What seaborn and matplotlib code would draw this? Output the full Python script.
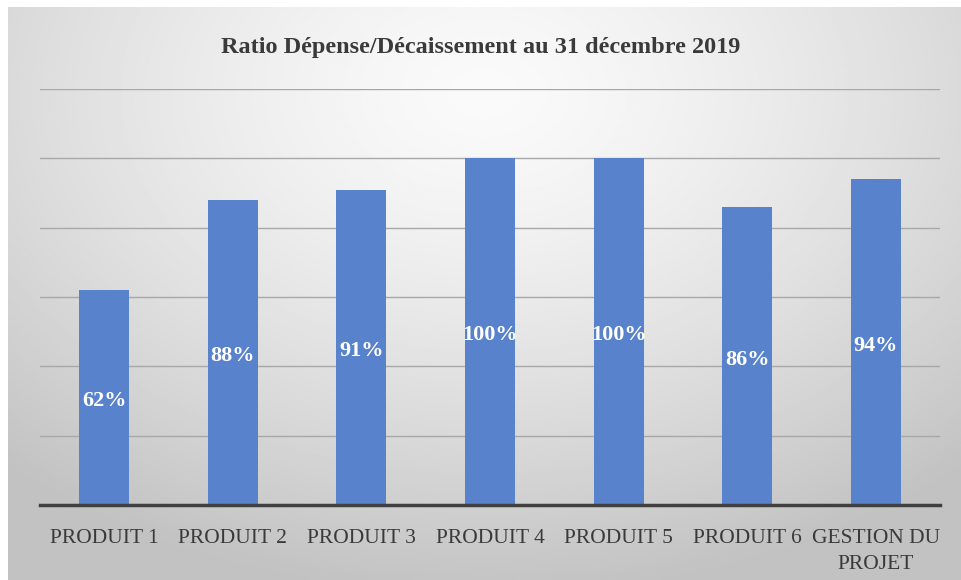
import numpy as np
import pandas as pd
import seaborn as sns
import matplotlib.pyplot as plt

# données
categories = ["PRODUIT 1", "PRODUIT 2", "PRODUIT 3", "PRODUIT 4", "PRODUIT 5", "PRODUIT 6", "GESTION DU\nPROJET"]
ratios = [0.62, 0.88, 0.91, 1.00, 1.00, 0.86, 0.94]
labels = ["62%", "88%", "91%", "100%", "100%", "86%", "94%"]
titre = "Ratio Dépense/Décaissement au 31 décembre 2019"

df = pd.DataFrame({"cat": categories, "ratio": ratios})

sns.set_style("white")
plt.rcParams['font.family'] = ['Liberation Serif', 'DejaVu Serif']

fig = plt.figure(figsize=(9.61, 5.8), dpi=100)

# fond dégradé radial
bg = fig.add_axes([8/961, 0, 953/961, 573/580], zorder=0)
yy, xx = np.mgrid[0:1:300j, 0:1:500j]
d = np.sqrt(((xx - 0.5) * 1.0) ** 2 + ((yy - 0.15) * 0.85) ** 2)
grad = 0.98 - 0.22 * np.clip(d / 0.75, 0, 1) ** 1.4
bg.imshow(grad, cmap="gray", vmin=0, vmax=1, aspect="auto", extent=[0, 1, 1, 0])
bg.set_axis_off()

ax = fig.add_axes([40/961, 75/580, 900/961, 416/580], zorder=1)
ax.patch.set_alpha(0)

sns.barplot(data=df, x="cat", y="ratio", color="#5882CB", saturation=1,
            width=0.39, ax=ax, zorder=3, linewidth=0)

ax.set_ylim(0, 1.2)
ax.set_xlim(-0.5, len(categories) - 0.5)
ax.set_yticks(np.arange(0.2, 1.21, 0.2))
ax.yaxis.grid(True, color="#a8a8a8", linewidth=1.0, zorder=0)
ax.set_axisbelow(True)
ax.tick_params(axis="y", left=False, labelleft=False)
ax.tick_params(axis="x", bottom=False, pad=14, labelsize=15.5, labelcolor="#3a3a3a")
ax.set_xlabel("")
ax.set_ylabel("")
for s in ["top", "right", "left"]:
    ax.spines[s].set_visible(False)
ax.spines["bottom"].set_color("#404040")
ax.spines["bottom"].set_linewidth(2.5)
ax.spines["bottom"].set_zorder(5)

for lab in ax.get_xticklabels():
    lab.set_multialignment("center")
    lab.set_verticalalignment("top")
    lab.set_linespacing(1.5)

for i, (v, t) in enumerate(zip(ratios, labels)):
    ax.text(i, v / 2 - 0.011, t, ha="center", va="center", color="white",
            fontsize=16, fontweight="bold", zorder=6)

fig.text(0.5, 1 - 47/580, titre, ha="center", va="center",
         fontsize=17.5, fontweight="bold", color="#3a3a3a")

fig.savefig("out.png", dpi=100)
